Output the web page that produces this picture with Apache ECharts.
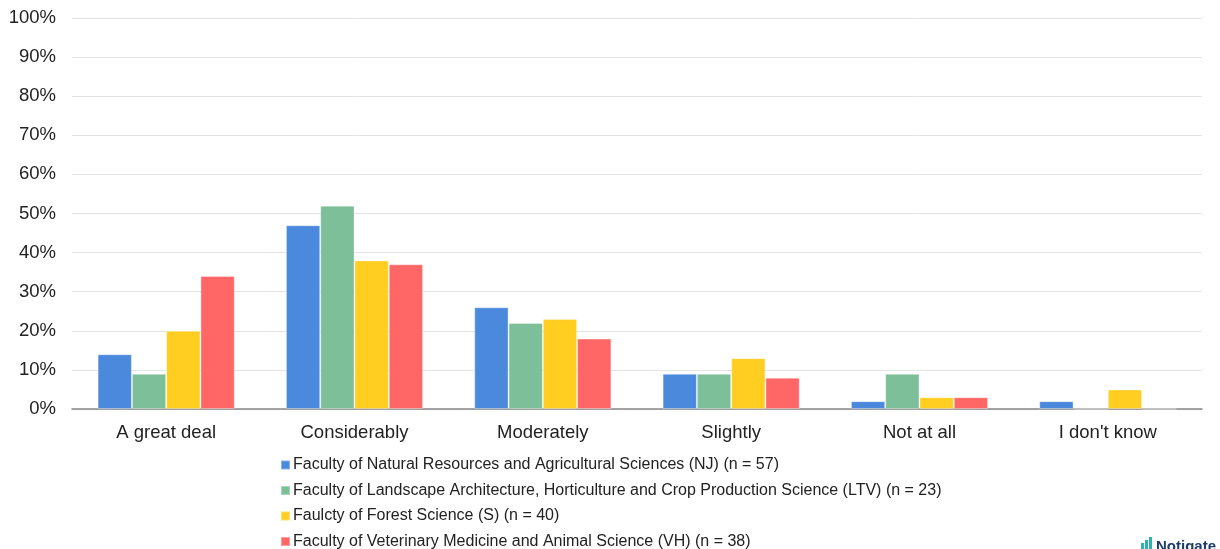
<!DOCTYPE html>
<html><head><meta charset="utf-8">
<script src="https://cdn.jsdelivr.net/npm/echarts@6/dist/echarts.min.js"></script>
<style>html,body{margin:0;padding:0;background:#fff}#c{width:1220px;height:549px}</style>
</head><body><div id="c"></div>
<script>
const categories = ["A great deal","Considerably","Moderately","Slightly","Not at all","I don't know"];
const seriesNames = [
  "Faculty of Natural Resources and Agricultural Sciences (NJ) (n = 57)",
  "Faculty of Landscape Architecture, Horticulture and Crop Production Science (LTV) (n = 23)",
  "Faulcty of Forest Science (S) (n = 40)",
  "Faculty of Veterinary Medicine and Animal Science (VH) (n = 38)"
];
const nj  = [14, 47, 26, 9, 2, 2];
const ltv = [9, 52, 22, 9, 9, 0];
const s   = [20, 38, 23, 13, 3, 5];
const vh  = [34, 37, 18, 8, 3, 0];
const colors = ["#4a89dc","#7dbf98","#ffce20","#ff6666"];
const values = [nj, ltv, s, vh];

const chart = echarts.init(document.getElementById('c'));
chart.setOption({
  animation:false,
  textStyle:{fontFamily:'Liberation Sans, Arial, sans-serif'},
  grid:{left:72,right:18,top:18,bottom:140,containLabel:false},
  legend:{
    orient:'vertical', left:280, top:457, height:200, padding:0, itemGap:9.5,
    itemWidth:9, itemHeight:9, icon:'rect',
    textStyle:{fontSize:16,color:'#222',padding:[0,0,0,-2]},
    data:seriesNames
  },
  xAxis:{
    type:'category', data:categories,
    axisLine:{lineStyle:{color:'#888',width:1.5}},
    axisTick:{show:false},
    axisLabel:{fontSize:18.5,color:'#222',margin:14}
  },
  yAxis:{
    type:'value', min:0, max:100, interval:10,
    axisLabel:{formatter:'{value}%',fontSize:18.5,color:'#222',margin:16},
    splitLine:{lineStyle:{color:'#e3e3e3',width:1}},
    axisLine:{show:false}, axisTick:{show:false}
  },
  series: values.map((v,i)=>({
    name:seriesNames[i], type:'bar', data:v,
    barWidth:'18.2%', barGap:'0%',
    itemStyle:{color:colors[i],borderColor:'rgba(255,255,255,0.35)',borderWidth:1}
  })),
  graphic:[
    {type:'rect',left:1141,top:543,shape:{width:3,height:6},style:{fill:'#2bb3b5'}},
    {type:'rect',left:1145,top:540,shape:{width:3,height:9},style:{fill:'#2bb3b5'}},
    {type:'rect',left:1149,top:537,shape:{width:3,height:12},style:{fill:'#2bb3b5'}},
    {type:'text',left:1156,top:539,style:{text:'Notigate',fontSize:15,fontWeight:'bold',fill:'#1d3c6e'}}
  ]
});
</script></body></html>
